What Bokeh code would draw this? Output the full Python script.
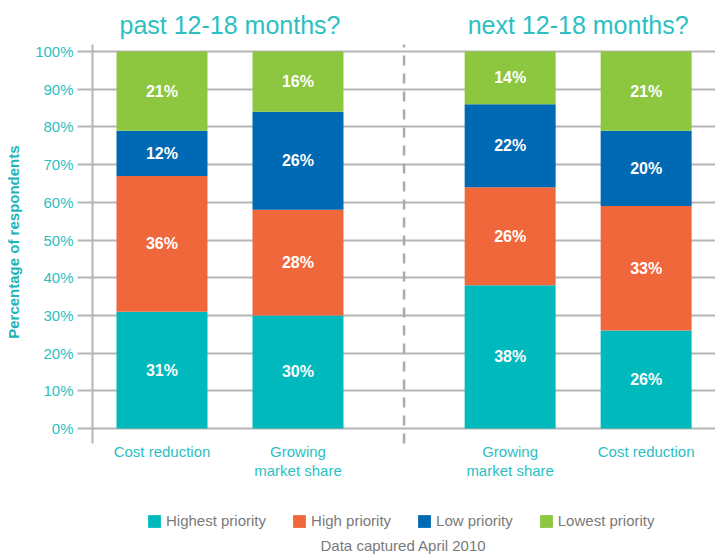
from bokeh.plotting import figure
from bokeh.models import (ColumnDataSource, Range1d, FixedTicker, PrintfTickFormatter,
                          LabelSet, Label, Legend, LegendItem)
from bokeh.core.properties import value
from bokeh.embed import file_html
from bokeh.resources import INLINE

# ---- data ----
categories = ["Cost reduction", "Growing\nmarket share", "Growing\nmarket share", "Cost reduction"]
periods = ["past", "past", "next", "next"]
highest = [31, 30, 38, 26]
high = [36, 28, 26, 33]
low = [12, 26, 22, 20]
lowest = [21, 16, 14, 21]
series_names = ["Highest priority", "High priority", "Low priority", "Lowest priority"]
group_titles = ["past 12-18 months?", "next 12-18 months?"]
y_ticks = [0, 10, 20, 30, 40, 50, 60, 70, 80, 90, 100]
y_axis_title = "Percentage of respondents"
caption = "Data captured April 2010"

# ---- layout (positions / styles) ----
positions = [0, 1, 2.56, 3.56]
bar_width = 0.669
divider_x = 1.78
y_lo, y_hi = -33.42, 113.53
band_lo, band_hi = -3.98, 101.86
title_y = 106.9
cat_line_y = [-6.1, -11.14]
colors = ["#00b9bc", "#f1673c", "#0069b4", "#8dc63f"]
cyan = "#2bbfc3"
grey_line = "#b5b5b5"
grey_text = "#7a7a7a"
FONT = "Liberation Sans"
axis_title_pad = "\u00a0" * 17   # shifts the centred axis title up over the 0-100% band

keys = ["highest", "high", "low", "lowest"]
src = ColumnDataSource(dict(x=positions, highest=highest, high=high, low=low, lowest=lowest))

p = figure(width=715, height=554, output_backend="svg", toolbar_location=None,
           x_range=Range1d(-0.511, 4.07), y_range=Range1d(y_lo, y_hi),
           x_axis_location=None,
           min_border_left=92, min_border_right=0, min_border_top=0, min_border_bottom=0)
p.outline_line_color = None
p.background_fill_color = "white"

renderers = p.vbar_stack(keys, x="x", width=bar_width, color=colors, source=src,
                         line_color=None)

# dashed divider between the two periods
p.segment(x0=[divider_x], y0=[band_lo], x1=[divider_x], y1=[band_hi], line_color="#ababab",
          line_width=2.5, line_dash="10 8")

# value labels
lx, ly, lt = [], [], []
for i, xp in enumerate(positions):
    base = 0
    for arr in (highest, high, low, lowest):
        v = arr[i]
        lx.append(xp)
        ly.append(base + v / 2)
        lt.append(f"{v}%")
        base += v
lab_src = ColumnDataSource(dict(x=lx, y=ly, t=lt))
p.add_layout(LabelSet(x="x", y="y", text="t", source=lab_src, text_align="center",
                      text_baseline="middle", text_color="white", text_font_style="bold",
                      text_font_size="16px", text_font=value(FONT)))

# category labels under the bars (each line centred)
cx, cy, ct = [], [], []
for xp, c in zip(positions, categories):
    for k, line in enumerate(c.split("\n")):
        cx.append(xp)
        cy.append(cat_line_y[k])
        ct.append(line)
cat_src = ColumnDataSource(dict(x=cx, y=cy, t=ct))
p.add_layout(LabelSet(x="x", y="y", text="t", source=cat_src, text_align="center",
                      text_baseline="middle", text_color=cyan, text_font_size="15px",
                      text_font=value(FONT)))

# y axis
p.yaxis.bounds = (band_lo, band_hi)
p.yaxis.ticker = FixedTicker(ticks=y_ticks)
p.yaxis.formatter = PrintfTickFormatter(format="%d%%")
p.yaxis.major_tick_out = 15
p.yaxis.major_tick_in = 0
p.yaxis.minor_tick_line_color = None
p.yaxis.major_tick_line_color = grey_line
p.yaxis.major_tick_line_width = 2
p.yaxis.axis_line_color = grey_line
p.yaxis.axis_line_width = 2
p.yaxis.major_label_text_color = cyan
p.yaxis.major_label_text_font_size = "15px"
p.yaxis.major_label_text_font = FONT
p.yaxis.major_label_standoff = 4
p.yaxis.axis_label = axis_title_pad + y_axis_title
p.yaxis.axis_label_text_font = FONT
p.yaxis.axis_label_text_font_size = "15px"
p.yaxis.axis_label_text_font_style = "bold"
p.yaxis.axis_label_text_color = "#1db5b9"
p.yaxis.axis_label_standoff = 10

p.ygrid.ticker = FixedTicker(ticks=y_ticks)
p.ygrid.grid_line_color = grey_line
p.ygrid.grid_line_width = 2
p.xgrid.grid_line_color = None

# group titles
for t, gx in zip(group_titles, [(positions[0] + positions[1]) / 2, (positions[2] + positions[3]) / 2]):
    p.add_layout(Label(x=gx, y=title_y, text=t, text_align="center",
                       text_baseline="middle", text_color=cyan, text_font_size="25px",
                       text_font=FONT))

# legend (inside frame, near the bottom)
items = [LegendItem(label=n, renderers=[r]) for n, r in zip(series_names, renderers)]
legend = Legend(items=items, orientation="horizontal", location=(54, 25),
                glyph_width=16, glyph_height=16, label_standoff=4, spacing=25,
                padding=0, margin=0, border_line_color=None, background_fill_alpha=0,
                label_text_font_size="15px", label_text_color=grey_text,
                label_text_font=FONT, label_height=16)
p.add_layout(legend)

# caption
p.add_layout(Label(x=311, y=9, x_units="screen", y_units="screen", text=caption,
                   text_align="center", text_baseline="middle", text_color=grey_text,
                   text_font_size="15px", text_font=FONT))

open("out.html", "w").write(file_html(p, INLINE))
